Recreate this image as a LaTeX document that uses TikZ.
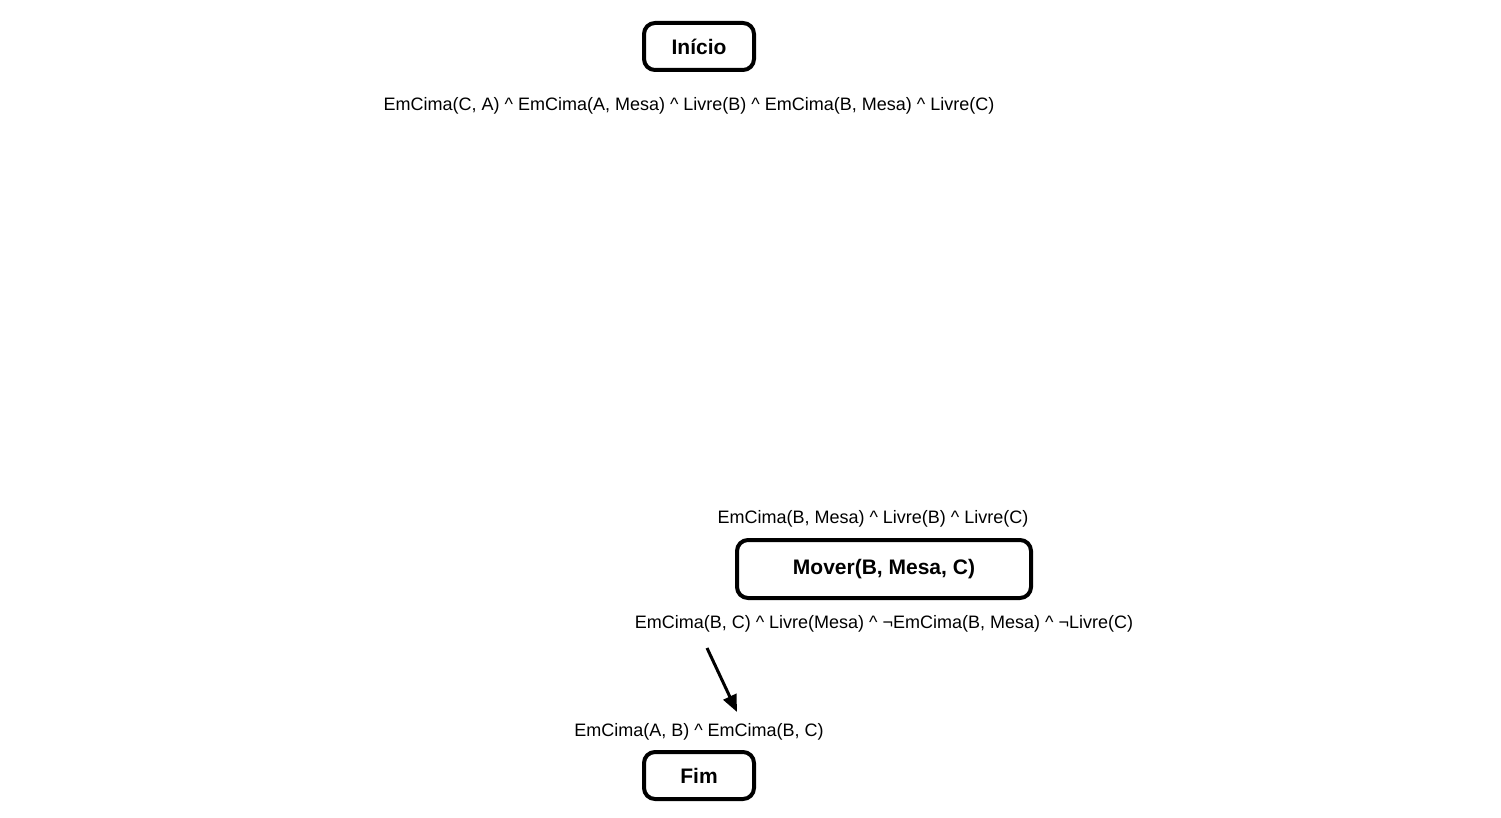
\documentclass[tikz,border=0pt]{standalone}
\usepackage{fontspec}
\setmainfont{Liberation Sans}
\usepackage{tikz}
\usetikzlibrary{positioning, shapes, calc, arrows.meta}

\begin{document}
\begin{tikzpicture}[x=1pt, y=-1pt]
			\tikzstyle{passo}=[rectangle, rounded corners=11pt, draw=black, line width=4pt, minimum width=110pt, minimum height=47pt, inner sep=0pt, font=\fontsize{21}{24}\selectfont\bfseries]
			\tikzstyle{cond}=[draw=none, inner sep=0pt, fill=none, text=black, font=\fontsize{18}{21}\selectfont]
			%%
			\path[use as bounding box] (0,0) rectangle (1501,818);
			
			\node (inicio) at (699,46.5) [passo] {Início};
			\node (mover) at (884,569) [passo, minimum width=294pt, minimum height=58pt] {Mover(B, Mesa, C)};
			\node (fim) at (699,775.5) [passo] {Fim};
			
			\node (c0) at (689,106) [cond] {EmCima(C, A) \textasciicircum{} EmCima(A, Mesa) \textasciicircum{} Livre(B) \textasciicircum{} EmCima(B, Mesa) \textasciicircum{} Livre(C)};
			\node (pre) at (873,519) [cond] {EmCima(B, Mesa) \textasciicircum{} Livre(B) \textasciicircum{} Livre(C)};
			\node (pos) at (884,624) [cond] {EmCima(B, C) \textasciicircum{} Livre(Mesa) \textasciicircum{} ¬EmCima(B, Mesa) \textasciicircum{} ¬Livre(C)};
			\node (meta) at (699,732) [cond] {EmCima(A, B) \textasciicircum{} EmCima(B, C)};
			
			\coordinate (s1) at (707,648);
			\coordinate (s2) at (737,712);
			\draw [line width=3pt, -{Triangle[length=17pt, width=14pt]}] (s1) -- (s2);
			
\end{tikzpicture}
\end{document}
